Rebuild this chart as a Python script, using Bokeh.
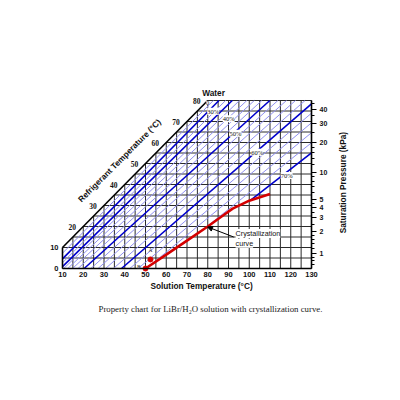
import numpy as np
from bokeh.plotting import figure
from bokeh.models import (Range1d, LinearAxis, FixedTicker, ColumnDataSource,
                          LabelSet, Label, Arrow, NormalHead)
from bokeh.embed import file_html
from bokeh.resources import INLINE

# ---------------- data ----------------
solution_ticks = [10, 20, 30, 40, 50, 60, 70, 80, 90, 100, 110, 120, 130]
grid_ts = list(range(10, 131, 5))
grid_tr = list(range(0, 81, 5))
left_ticks = [0, 10]
diag_ticks = [20, 30, 40, 50, 60, 70, 80]

water_ts = [10, 80]
water_tr = [10, 80]

# concentration lines: solution temperature at refrigerant 0 and 80 degC
dark_conc = [30, 40, 50, 60, 70]
dark_ts_at0 = [5.4, 9.05, 20.44, 38.44, 58.27]
dark_ts_at80 = [85.4, 91.8, 109.9, 131.9, 162.4]
light_conc = [20, 35, 42, 44, 46, 48, 52, 54, 56, 58, 62, 64, 66, 68]
light_ts_at0 = [2.7, 7.2, 10.57, 12.51, 14.82, 17.48, 23.67,
                27.12, 30.75, 34.54, 42.41, 46.42, 50.42, 54.39]
light_ts_at80 = [82.7, 88.6, 95.3, 98.85, 102.44, 106.09,
                 113.81, 117.93, 122.29, 126.92, 137.13, 142.78, 148.86, 155.41]

conc_label_text = ["0", "30%", "40%", "50%", "60%", "70%"]

cryst_ts = [50, 60, 70, 80, 87, 92, 100, 110]
cryst_tr = [0, 6.6, 13.3, 20, 25, 28.5, 32.3, 35.5]

point_names = ["A", "B"]
point_ts = [52.4, 50]
point_tr = [4.3, 0]

pressure_major = [1, 2, 3, 4, 5, 10, 20, 30, 40]
pressure_major_sat = [7.0, 17.5, 24.1, 29.0, 32.9, 45.8, 60.1, 69.1, 75.9]
pressure_minor = [0.7, 0.8, 0.9, 1.2, 1.4, 1.6, 1.8, 2.5, 3.5, 4.5, 6, 7, 8, 9,
                  12, 14, 16, 18, 25, 35, 45]
pressure_minor_sat = [1.9, 3.8, 5.4, 9.7, 12.0, 14.0, 15.8, 21.1, 26.7, 31.0,
                      36.2, 39.0, 41.5, 43.8, 49.4, 52.6, 55.3, 57.8, 65.0, 72.7, 78.7]

# ---------------- figure geometry (pixels) ----------------
W, H = 390, 330
PX_X, PX_Y = 2.075, 2.1        # pixels per degree
ORG_X, ORG_Y = 62, 268         # pixel position of (10 degC, 0 degC) in the figure
x_start = 10 - ORG_X / PX_X
y_start = -(H - ORG_Y) / PX_Y

p = figure(width=W, height=H, output_backend="svg", toolbar_location=None,
           x_range=Range1d(x_start, x_start + W / PX_X),
           y_range=Range1d(y_start, y_start + H / PX_Y),
           min_border=0, x_axis_type=None, y_axis_type=None, title=None)
p.outline_line_color = None
p.background_fill_color = "white"
p.border_fill_color = "white"

FONT = "Liberation Sans"

# grid (only below water line)
gx = np.array(grid_ts, dtype=float)
p.segment(x0=gx, y0=np.zeros_like(gx), x1=gx, y1=np.minimum(gx, 80),
          line_color="#2a2a2a", line_width=1.0)
gy = np.array(grid_tr, dtype=float)
p.segment(x0=np.maximum(gy, 10), y0=gy, x1=np.full_like(gy, 130), y1=gy,
          line_color="#2a2a2a", line_width=1.0)


def clipped(ts0s, ts80s):
    x0, y0, x1, y1 = [], [], [], []
    t = np.linspace(0, 80, 16001)
    for a0, a80 in zip(ts0s, ts80s):
        ts = a0 + (a80 - a0) * t / 80.0
        floor = np.interp(ts, cryst_ts, cryst_tr, left=-1, right=-1)
        ok = (ts >= 10) & (ts <= 130) & (t >= floor)
        idx = np.nonzero(ok)[0]
        if len(idx) == 0:
            continue
        i, j = idx[0], idx[-1]
        x0.append(ts[i]); y0.append(t[i]); x1.append(ts[j]); y1.append(t[j])
    return x0, y0, x1, y1


lx0, ly0, lx1, ly1 = clipped(light_ts_at0, light_ts_at80)
p.segment(x0=lx0, y0=ly0, x1=lx1, y1=ly1, line_color="#9090f0", line_width=1.0)
dx0, dy0, dx1, dy1 = clipped(dark_ts_at0, dark_ts_at80)
p.segment(x0=dx0, y0=dy0, x1=dx1, y1=dy1, line_color="#0000cc", line_width=1.6)

# water line and left edge
p.line(water_ts, water_tr, line_color="black", line_width=1.6)
p.line([water_ts[0], water_ts[0]], [0, water_tr[0]], line_color="black", line_width=1.6)

# crystallization curve
p.line(cryst_ts, cryst_tr, line_color="#d40000", line_width=2.6)
p.scatter(point_ts, point_tr, size=5, color="#d40000")

# ---------------- axes ----------------
xa = LinearAxis(ticker=FixedTicker(ticks=solution_ticks), fixed_location=0,
                bounds=(solution_ticks[0], solution_ticks[-1]))
xa.axis_line_color = "black"
xa.axis_line_width = 1.6
xa.major_tick_line_color = None
xa.minor_tick_line_color = None
xa.major_tick_out = 0
xa.major_tick_in = 0
xa.minor_tick_out = 0
xa.major_label_standoff = 3
xa.major_label_text_font = FONT
xa.major_label_text_font_style = "bold"
xa.major_label_text_font_size = "7.5px"
xa.major_label_text_color = "#111111"
p.add_layout(xa, "below")

ya = LinearAxis(ticker=FixedTicker(ticks=left_ticks), fixed_location=10,
                bounds=(0, 10))
ya.axis_line_color = None
ya.major_tick_line_color = None
ya.minor_tick_line_color = None
ya.major_tick_out = 0
ya.major_tick_in = 0
ya.minor_tick_out = 0
ya.major_label_standoff = 4
ya.major_label_text_font = FONT
ya.major_label_text_font_style = "bold"
ya.major_label_text_font_size = "7.5px"
ya.major_label_text_color = "#111111"
p.add_layout(ya, "left")

ra = LinearAxis(ticker=FixedTicker(ticks=pressure_major_sat, minor_ticks=pressure_minor_sat),
                fixed_location=130, bounds=(0, 80))
ra.major_label_overrides = {float(s): str(v) for s, v in zip(pressure_major_sat, pressure_major)}
ra.axis_line_color = "black"
ra.axis_line_width = 1.6
ra.major_tick_out = 5
ra.major_tick_in = 0
ra.minor_tick_out = 3
ra.minor_tick_in = 0
ra.major_tick_line_color = "black"
ra.minor_tick_line_color = "black"
ra.major_label_standoff = 3
ra.major_label_orientation = "horizontal"
ra.major_label_text_font = FONT
ra.major_label_text_font_style = "bold"
ra.major_label_text_font_size = "7px"
ra.major_label_text_color = "#111111"
p.add_layout(ra, "right")

# ---------------- labels ----------------
diag = np.array(diag_ticks, dtype=float)
p.add_layout(LabelSet(source=ColumnDataSource(dict(x=diag - 5.3, y=diag,
                                                   t=[str(v) for v in diag_ticks])),
                      x="x", y="y", text="t", text_align="center", text_baseline="middle",
                      text_font=FONT, text_font_style="bold", text_font_size="7.5px",
                      text_color="#111111"))

conc_src = ColumnDataSource(dict(x=[79.9, 82.6, 90.1, 93.4, 103.8, 118.0],
                                 y=[78.8, 74.9, 71.3, 64.4, 55.4, 44.3],
                                 t=conc_label_text))
p.add_layout(LabelSet(source=conc_src, x="x", y="y", text="t",
                      text_align="center", text_baseline="middle",
                      text_font=FONT, text_font_size="6.5px", text_color="#111111",
                      background_fill_color="white"))

p.add_layout(Label(x=82.8, y=83.5, text="Water", text_align="center",
                   text_baseline="middle", text_font=FONT, text_font_style="bold",
                   text_font_size="8.3px", text_color="#111111"))
p.add_layout(Label(x=37.4, y=51.4, text="Refrigerant Temperature (°C)", angle=np.pi / 4,
                   text_align="center", text_baseline="middle", text_font=FONT,
                   text_font_style="bold", text_font_size="8.3px", text_color="#111111"))
p.add_layout(Label(x=145.4, y=40.9, text="Saturation Pressure (kPa)", angle=np.pi / 2,
                   text_align="center", text_baseline="middle", text_font=FONT,
                   text_font_style="bold", text_font_size="8.3px", text_color="#111111"))
p.add_layout(Label(x=77.0, y=-8.4, text="Solution Temperature (°C)",
                   text_align="center", text_baseline="middle", text_font=FONT,
                   text_font_style="bold", text_font_size="8.3px", text_color="#111111"))
p.add_layout(Label(x=81.3, y=-19.2,
                   text="Property chart for LiBr/H\u2082O solution with crystallization curve.",
                   text_align="center", text_baseline="middle", text_font="Liberation Serif",
                   text_font_size="8.8px", text_color="#222222"))

p.add_layout(Label(x=93.4, y=16.7, text="Crystallization", text_align="left",
                   text_baseline="middle", text_font=FONT, text_font_size="7.2px",
                   text_color="#111111", background_fill_color="white"))
p.add_layout(Label(x=93.4, y=12.0, text="curve", text_align="left",
                   text_baseline="middle", text_font=FONT, text_font_size="7.2px",
                   text_color="#111111", background_fill_color="white"))
p.add_layout(Arrow(end=NormalHead(size=5, fill_color="black", line_color="black"),
                   x_start=92.5, y_start=15.0, x_end=79.9, y_end=19.8,
                   line_color="black", line_width=1))

p.add_layout(LabelSet(source=ColumnDataSource(dict(x=[52.4, 46.8], y=[8.6, 0.6], t=point_names)),
                      x="x", y="y", text="t", text_align="center", text_baseline="middle",
                      text_font=FONT, text_font_size="5.5px", text_color="#333333"))

open("out.html", "w").write(file_html(p, INLINE))
